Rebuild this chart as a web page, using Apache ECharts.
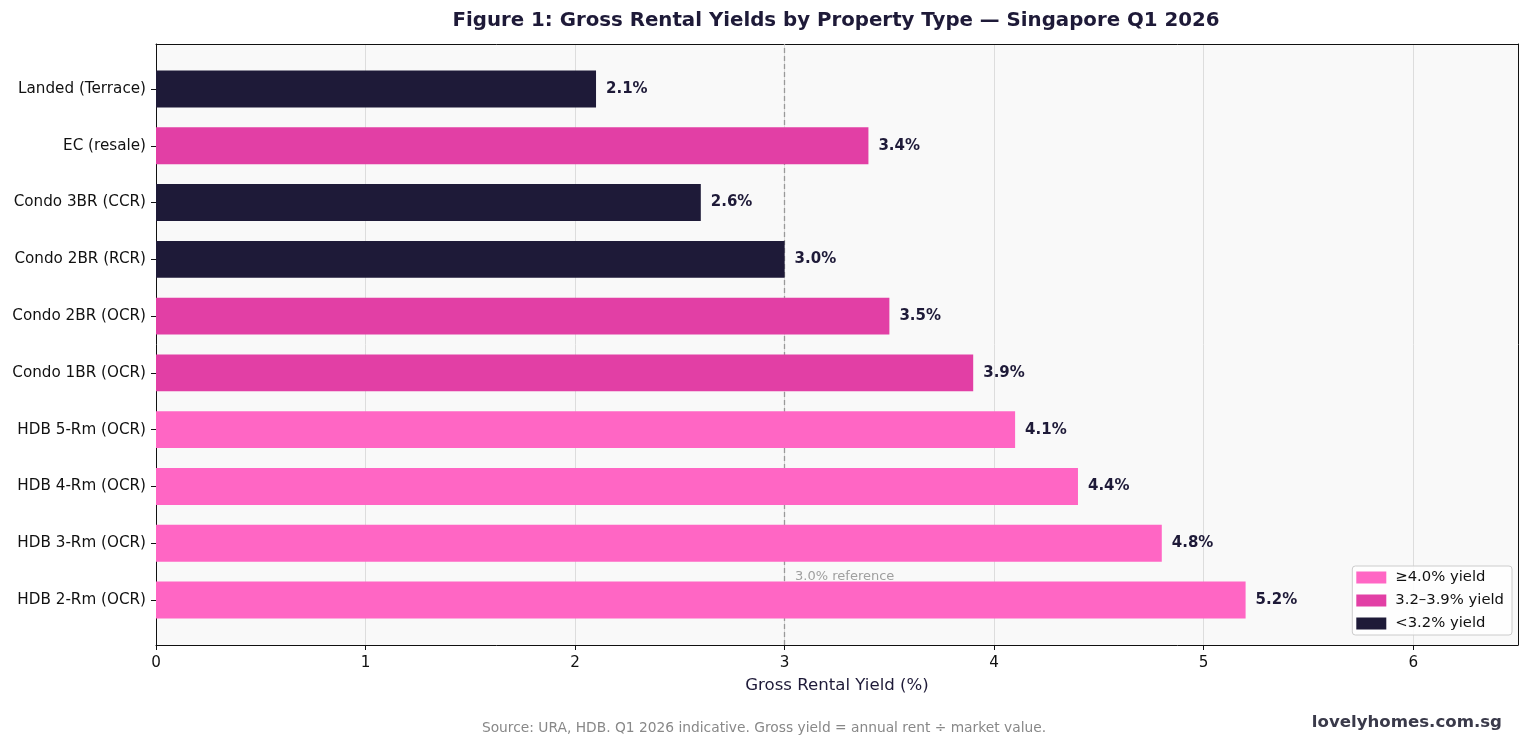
<!DOCTYPE html>
<html><head><meta charset="utf-8">
<script src="https://cdn.jsdelivr.net/npm/echarts@6/dist/echarts.min.js"></script>
<style>html,body{margin:0;padding:0;background:#fff}#c{width:1528px;height:747px}</style>
</head><body><div id="c"></div>
<script>
const categories = ['HDB 2-Rm (OCR)', 'HDB 3-Rm (OCR)', 'HDB 4-Rm (OCR)', 'HDB 5-Rm (OCR)', 'Condo 1BR (OCR)', 'Condo 2BR (OCR)', 'Condo 2BR (RCR)', 'Condo 3BR (CCR)', 'EC (resale)', 'Landed (Terrace)'];
const yields = [5.2, 4.8, 4.4, 4.1, 3.9, 3.5, 3.0, 2.6, 3.4, 2.1];
const groupNames = ['\u22654.0% yield', '3.2\u20133.9% yield', '<3.2% yield'];
const groupColors = ['#ff66c4', '#e23fa5', '#1e1a38'];
const referenceValue = 3.0;
const referenceLabel = '3.0% reference';

function groupOf(v) { return v >= 4.0 ? 0 : (v >= 3.2 ? 1 : 2); }

const FONT = "'DejaVu Sans', sans-serif";
const chart = echarts.init(document.getElementById('c'), null, {renderer: 'canvas'});

const barSeries = groupNames.map((name, g) => ({
  name: name,
  type: 'bar',
  xAxisIndex: 1, yAxisIndex: 1,
  stack: 'all',
  barWidth: '65%',
  z: 3,
  itemStyle: {color: groupColors[g]},
  label: {
    show: true, position: 'right', distance: 10,
    fontFamily: FONT, fontSize: 15, fontWeight: 'bold', color: '#1e1a38',
    formatter: p => p.value.toFixed(1) + '%'
  },
  data: yields.map(v => groupOf(v) === g ? v : '-')
}));

const frameLine = {show: true, onZero: false, lineStyle: {color: '#111111', width: 1}};

chart.setOption({
  backgroundColor: '#ffffff',
  animation: false,
  textStyle: {fontFamily: FONT},
  title: [{
    text: 'Figure 1: Gross Rental Yields by Property Type \u2014 Singapore Q1 2026',
    left: 831, top: 6, textAlign: 'center',
    textStyle: {fontFamily: FONT, fontSize: 19.8, fontWeight: 'bold', color: '#1e1a38'}
  }],
  graphic: [
    {type: 'text', left: 'center', top: 721, style: {text: 'Source: URA, HDB. Q1 2026 indicative. Gross yield = annual rent \u00f7 market value.', font: "13.8px 'DejaVu Sans', sans-serif", fill: '#888888'}},
    {type: 'text', right: 26, top: 714, style: {text: 'lovelyhomes.com.sg', font: "bold 16.6px 'DejaVu Sans', sans-serif", fill: '#3a3a4a'}}
  ],
  legend: {
    data: groupNames,
    orient: 'vertical',
    right: 16, bottom: 112,
    itemWidth: 30, itemHeight: 12, itemGap: 8,
    icon: 'rect',
    backgroundColor: 'rgba(255,255,255,0.85)',
    borderColor: '#cccccc', borderWidth: 1, borderRadius: 3,
    padding: [4, 8, 4, 4],
    textStyle: {fontFamily: FONT, fontSize: 14.8, color: '#111111', padding: [0, 0, 0, 4]}
  },
  grid: [
    {left: 156, right: 10, top: 44, bottom: 102, show: true, backgroundColor: '#f9f9f9', borderWidth: 0, containLabel: false},
    {left: 156, right: 10, top: 60.6, bottom: 118.6, show: false, containLabel: false}
  ],
  xAxis: [
    {gridIndex: 0, type: 'value', min: 0, max: 6.5, interval: 1, position: 'bottom',
     axisLine: frameLine, axisTick: {show: true, length: 5, lineStyle: {color: '#111'}},
     axisLabel: {fontFamily: FONT, fontSize: 15.2, color: '#111', margin: 11, showMaxLabel: false},
     splitLine: {show: true, lineStyle: {color: '#dddddd', width: 1}},
     name: 'Gross Rental Yield (%)', nameLocation: 'middle', nameGap: 32,
     nameTextStyle: {fontFamily: FONT, fontSize: 16.6, color: '#1e1a38'}},
    {gridIndex: 1, type: 'value', min: 0, max: 6.5, show: false},
    {gridIndex: 0, type: 'value', min: 0, max: 6.5, position: 'top',
     axisLine: frameLine, axisTick: {show: false}, axisLabel: {show: false}, splitLine: {show: false}}
  ],
  yAxis: [
    {gridIndex: 0, type: 'value', min: 0, max: 1, position: 'left',
     axisLine: frameLine, axisTick: {show: false}, axisLabel: {show: false}, splitLine: {show: false}},
    {gridIndex: 1, type: 'category', data: categories,
     axisLine: {show: false},
     axisTick: {show: true, length: 5, alignWithLabel: true, lineStyle: {color: '#111'}},
     axisLabel: {fontFamily: FONT, fontSize: 15.2, color: '#111', margin: 10},
     splitLine: {show: false}},
    {gridIndex: 0, type: 'value', min: 0, max: 1, position: 'right',
     axisLine: frameLine, axisTick: {show: false}, axisLabel: {show: false}, splitLine: {show: false}}
  ],
  series: [
    {
      name: 'ref', type: 'scatter', xAxisIndex: 0, yAxisIndex: 0,
      symbolSize: 0, z: 1, silent: true,
      data: [[referenceValue + 0.05, 0.114]],
      label: {show: true, position: 'right', distance: 0, formatter: referenceLabel,
              fontFamily: FONT, fontSize: 13, color: '#888888'},
      markLine: {
        silent: true, symbol: 'none', z: 1,
        label: {show: false},
        lineStyle: {color: '#999999', type: [5, 3], width: 1.3},
        data: [{xAxis: referenceValue}]
      }
    },
    ...barSeries
  ]
});
</script></body></html>
